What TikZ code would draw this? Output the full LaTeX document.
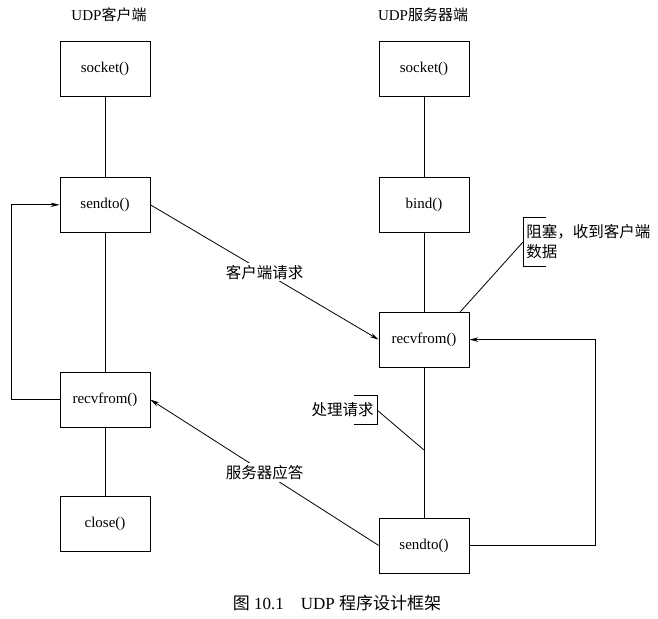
\documentclass[tikz,border=0pt]{standalone}
\usepackage{fontspec}
\setmainfont{Liberation Serif}
\newfontfamily\cjk{Noto Sans CJK SC}
\usetikzlibrary{arrows.meta,positioning,calc}

\begin{document}
\begin{tikzpicture}[
        x=1pt,y=-1pt,>={Stealth[length=9pt,width=4.5pt]},
        line width=0.8pt,
        font=\fontsize{15}{20}\selectfont,
        node distance=80pt
    ]

    \tikzstyle{block} = [rectangle,draw,minimum width=90pt,minimum height=55pt]
    \tikzstyle{note} = [inner xsep=3pt,inner ysep=7pt,align=left,font=\fontsize{15.5}{20}\selectfont\cjk]
    \tikzstyle{msg} = [fill=white,inner sep=2pt,font=\fontsize{15.5}{20}\selectfont\cjk]

    \useasboundingbox (0,0) rectangle (658,618);

    \node (client) at (109,15) {UDP{\cjk 客户端}};
    \node (server) at (423,15) {UDP{\cjk 服务器端}};

    \node[block] (csocket) at (105,69) {socket()};
    \node[block] (csendto) [below=of csocket] {sendto()};
    \node[block] (crecvfrom) [below=139pt of csendto] {recvfrom()};
    \node[block] (cclose) [below=68pt of crecvfrom] {close()};

    \node[block] (ssocket) at (424,69) {socket()};
    \node[block] (sbind) [below=of ssocket] {bind()};
    \node[block] (srecvfrom) [below=79pt of sbind] {recvfrom()};
    \node[block] (ssendto) [below=150pt of srecvfrom] {sendto()};

    \path[]
        (csocket) edge (csendto)
        (csendto) edge (crecvfrom)
        (crecvfrom) edge (cclose)
        (ssocket) edge (sbind)
        (sbind) edge (srecvfrom)
        (srecvfrom) edge (ssendto)
    ;

    \draw[->] (crecvfrom.west) -- ++(-48,0) |- (csendto.west);
    \draw[->] (ssendto.east) -- ++(126,0) |- (srecvfrom.east);
    \draw[->] (csendto.east) -- node[msg] {客户端请求} (srecvfrom.west);
    \draw[->] (ssendto.west) -- node[msg] {服务器应答} (crecvfrom.east);

    \node[note,anchor=west] (wait) at (523,242) {阻塞，收到客户端\\数据};
    \draw ([xshift=23pt]wait.north west) -- (wait.north west)
        -- (wait.south west) -- ([xshift=23pt]wait.south west);
    \draw (wait.west) -- ([xshift=-9pt]srecvfrom.north east);

    \node[note,anchor=east] (handle) at (377,410) {处理请求};
    \coordinate (work) at ($(srecvfrom.south)!0.55!(ssendto.north)$);
    \draw ([xshift=-23pt]handle.north east) -- (handle.north east)
        -- (handle.south east) -- ([xshift=-23pt]handle.south east);
    \draw (handle.east) -- (work);

    \node[font=\fontsize{17}{20}\selectfont] (caption) at (337,603)
        {{\cjk 图} 10.1\quad UDP {\cjk 程序设计框架}};

\end{tikzpicture}
\end{document}
